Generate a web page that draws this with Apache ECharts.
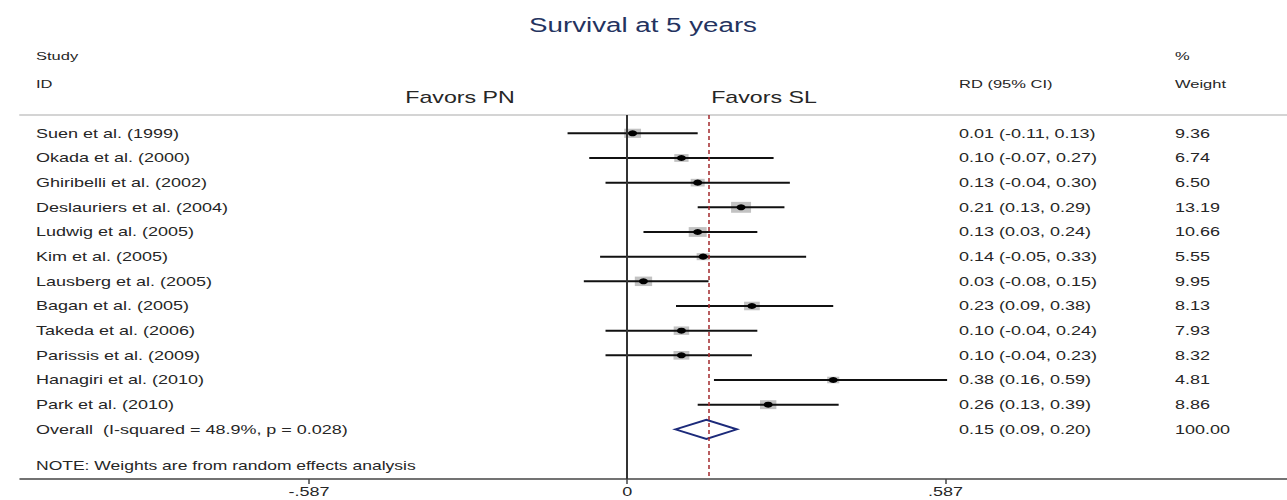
<!DOCTYPE html>
<html><head><meta charset="utf-8">
<script src="https://cdn.jsdelivr.net/npm/echarts@6/dist/echarts.min.js"></script>
<style>html,body{margin:0;padding:0;background:#fff}#c{width:1287px;height:500px}</style>
</head><body><div id="c"></div>
<script>
const studies = ['Suen et al. (1999)','Okada et al. (2000)','Ghiribelli et al. (2002)','Deslauriers et al. (2004)','Ludwig et al. (2005)','Kim et al. (2005)','Lausberg et al. (2005)','Bagan et al. (2005)','Takeda et al. (2006)','Parissis et al. (2009)','Hanagiri et al. (2010)','Park et al. (2010)'];
const rd = [0.01,0.10,0.13,0.21,0.13,0.14,0.03,0.23,0.10,0.10,0.38,0.26];
const lower = [-0.11,-0.07,-0.04,0.13,0.03,-0.05,-0.08,0.09,-0.04,-0.04,0.16,0.13];
const upper = [0.13,0.27,0.30,0.29,0.24,0.33,0.15,0.38,0.24,0.23,0.59,0.39];
const weights = [9.36,6.74,6.50,13.19,10.66,5.55,9.95,8.13,7.93,8.32,4.81,8.86];
const overallLabel = 'Overall  (I-squared = 48.9%, p = 0.028)';
const overallEst = 0.146, overallLower = 0.089, overallUpper = 0.202;
const overallWeight = '100.00';
const tickValues = [-0.587, 0, 0.587];
const tickLabels = ['-.587', '0', '.587'];
const titleText = 'Survival at 5 years';
const noteText = 'NOTE: Weights are from random effects analysis';

const FONT = 'Liberation Sans, Arial, Helvetica, sans-serif';
const SX = 1.5;
const Y_MIN = -0.742, Y_MAX = 14.013;
const fmt = v => v.toFixed(2);
const ciText = i => fmt(rd[i]) + ' (' + fmt(lower[i]) + ', ' + fmt(upper[i]) + ')';

const chart = echarts.init(document.getElementById('c'), null, {renderer: 'svg'});

function txt(x, y, text, size, opts) {
  opts = opts || {};
  return {type: 'text', x: x, y: y, scaleX: opts.sx || SX, silent: true,
    style: {text: text, fontSize: size, fontFamily: FONT, fill: opts.fill || '#262626',
      align: opts.align || 'left', verticalAlign: 'middle'}};
}

const rowData = studies.map((s, i) => [i, rd[i], lower[i], upper[i], weights[i]]);

chart.setOption({
  animation: false,
  backgroundColor: '#fff',
  grid: {left: 20, right: 0, top: 115, bottom: 21},
  xAxis: [{
    type: 'value', min: -1.1199, max: 1.2169, position: 'bottom',
    splitLine: {show: false},
    axisLine: {show: true, onZero: false, lineStyle: {color: '#444', width: 1.5}},
    axisTick: {show: true, customValues: tickValues, length: 5, lineStyle: {color: '#444', width: 1.5}},
    axisLabel: {show: false}
  }, {
    type: 'value', min: -1.1199, max: 1.2169, position: 'top',
    splitLine: {show: false},
    axisLine: {show: true, onZero: false, lineStyle: {color: '#d4d4d4', width: 2}},
    axisTick: {show: false}, axisLabel: {show: false}
  }],
  yAxis: {type: 'value', inverse: true, min: Y_MIN, max: Y_MAX, show: false},
  graphic: [
    txt(643, 25, titleText, 21, {align: 'center', fill: '#24335f', sx: 1.32}),
    txt(36, 56, 'Study', 11),
    txt(36, 84, 'ID', 11),
    txt(959, 84, 'RD (95% CI)', 11),
    txt(1175, 56, '%', 11),
    txt(1175, 84, 'Weight', 11),
    txt(460, 97, 'Favors PN', 16, {align: 'center', sx: 1.45}),
    txt(764, 97, 'Favors SL', 16, {align: 'center', sx: 1.45}),
    txt(36, 466, noteText, 12, {sx: 1.46})
  ],
  series: [{
    type: 'custom', name: 'studies', xAxisIndex: 0, yAxisIndex: 0,
    data: rowData,
    renderItem: function (params, api) {
      const i = api.value(0), est = api.value(1), lo = api.value(2), hi = api.value(3), w = api.value(4);
      const pLo = api.coord([lo, i]), pHi = api.coord([hi, i]), pE = api.coord([est, i]);
      const bw = 5.5 * Math.sqrt(w), bh = 3.0 * Math.sqrt(w);
      return {type: 'group', children: [
        {type: 'rect', shape: {x: pE[0] - bw / 2, y: pE[1] - bh / 2, width: bw, height: bh}, style: {fill: '#c2c2c2'}},
        {type: 'line', shape: {x1: pLo[0], y1: pLo[1], x2: pHi[0], y2: pHi[1]}, style: {stroke: '#111', lineWidth: 2}},
        {type: 'circle', x: pE[0], y: pE[1], scaleX: 1.5, shape: {cx: 0, cy: 0, r: 3}, style: {fill: '#000'}}
      ]};
    },
    markLine: {
      silent: true, symbol: 'none', label: {show: false},
      data: [
        {xAxis: 0, lineStyle: {color: '#333', width: 2, type: 'solid'}},
        {xAxis: overallEst, lineStyle: {color: '#a3282d', width: 1.5, type: [4, 3]}}
      ]
    }
  }, {
    type: 'custom', name: 'overall', xAxisIndex: 0, yAxisIndex: 0,
    data: [[studies.length, overallEst, overallLower, overallUpper]],
    renderItem: function (params, api) {
      const i = api.value(0);
      const pE = api.coord([api.value(1), i]), pLo = api.coord([api.value(2), i]), pHi = api.coord([api.value(3), i]);
      const h = 9.5;
      return {type: 'polygon', shape: {points: [[pLo[0], pLo[1]], [pE[0], pE[1] - h], [pHi[0], pHi[1]], [pE[0], pE[1] + h]]},
        style: {fill: 'none', stroke: '#1c2a7a', lineWidth: 2}};
    }
  }, {
    type: 'custom', name: 'texts', xAxisIndex: 0, yAxisIndex: 0,
    data: studies.map((s, i) => [i, 0]).concat([[studies.length, 0]]),
    renderItem: function (params, api) {
      const i = api.value(0);
      const y = api.coord([0, i])[1];
      const isOverall = params.dataIndex === studies.length;
      const name = isOverall ? overallLabel : studies[params.dataIndex];
      const ci = isOverall ? (fmt(overallEst) + ' (' + fmt(overallLower) + ', ' + fmt(overallUpper) + ')') : ciText(params.dataIndex);
      const wt = isOverall ? overallWeight : fmt(weights[params.dataIndex]);
      return {type: 'group', children: [
        txt(36, y, name, 12),
        txt(959, y, ci, 12),
        txt(1175, y, wt, 12)
      ]};
    }
  }, {
    type: 'custom', name: 'tickLabels', xAxisIndex: 0, yAxisIndex: 0, clip: false,
    data: tickValues.map(v => [v]),
    renderItem: function (params, api) {
      const p = api.coord([api.value(0), Y_MAX]);
      return txt(p[0], p[1] + 13, tickLabels[params.dataIndex], 12, {align: 'center'});
    }
  }]
});
</script></body></html>
